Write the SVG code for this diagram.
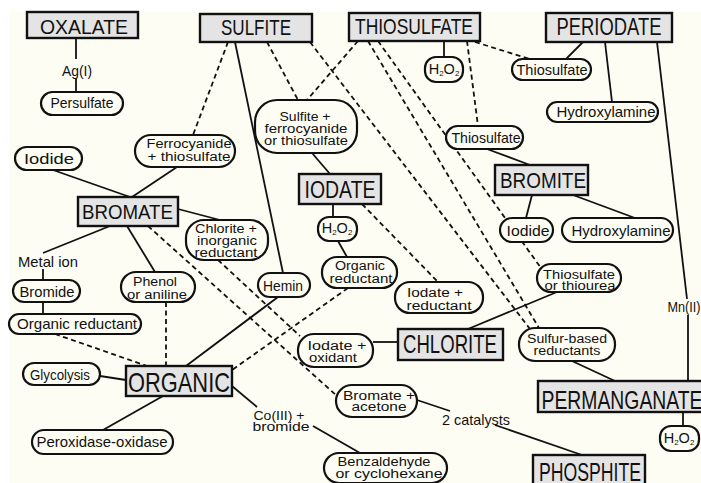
<svg xmlns="http://www.w3.org/2000/svg" width="701" height="483" viewBox="0 0 701 483">
<style>
.bg{fill:#fdfdf4}
.box rect{fill:#e4e4e4;stroke:#111;stroke-width:2.4}
.pill rect{fill:#fdfdf4;stroke:#111;stroke-width:2.2}
.big{font-family:"Liberation Sans",Arial,sans-serif;fill:#111;text-anchor:middle}
.t{font-family:"Liberation Sans",Arial,sans-serif;font-size:14.5px;fill:#111;text-anchor:middle}
.m{font-size:12px}
.sub{font-size:8px}
#connectors line{stroke:#111;stroke-width:1.8;fill:none}
#connectors .d{stroke-dasharray:5 3.5}
</style>
<rect width="701" height="483" fill="#ffffff"/>
<rect class="bg" x="9" y="12" width="692" height="471"/>

<g id="connectors">
  <line x1="76" y1="38" x2="76" y2="59"/>
  <line x1="76" y1="78" x2="76" y2="92"/>
  <line x1="583" y1="42" x2="566" y2="59"/>
  <line x1="605" y1="42" x2="612" y2="102"/>
  <line x1="657" y1="42" x2="687" y2="299"/>
  <line x1="688" y1="315" x2="688" y2="381"/>
  <line x1="444" y1="41" x2="444" y2="57"/>
  <line x1="235" y1="42" x2="283" y2="273"/>
  <line x1="177" y1="167" x2="132" y2="197"/>
  <line x1="53" y1="170" x2="130" y2="197"/>
  <line x1="178" y1="209" x2="220" y2="220"/>
  <line x1="110" y1="226" x2="43" y2="253"/>
  <line x1="43" y1="269" x2="43" y2="280"/>
  <line x1="43" y1="302" x2="43" y2="314"/>
  <line x1="127" y1="226" x2="155" y2="272"/>
  <line x1="278" y1="297" x2="186" y2="366"/>
  <line x1="100" y1="376" x2="126" y2="380"/>
  <line x1="163" y1="396" x2="103" y2="430"/>
  <line x1="232" y1="386" x2="257" y2="407"/>
  <line x1="313" y1="426" x2="360" y2="453"/>
  <line x1="312" y1="153" x2="330" y2="174"/>
  <line x1="333" y1="204" x2="333" y2="217"/>
  <line x1="338" y1="241" x2="347" y2="257"/>
  <line x1="487" y1="149" x2="530" y2="165"/>
  <line x1="532" y1="195" x2="526" y2="218"/>
  <line x1="573" y1="195" x2="635" y2="218"/>
  <line x1="468" y1="329" x2="557" y2="292"/>
  <line x1="373" y1="342" x2="398" y2="342"/>
  <line x1="572" y1="361" x2="615" y2="381"/>
  <line x1="683" y1="412" x2="683" y2="426"/>
  <line x1="417" y1="400" x2="450" y2="411"/>
  <line x1="495" y1="425" x2="582" y2="455"/>
  <line class="d" x1="228" y1="42" x2="193" y2="135"/>
  <line class="d" x1="267" y1="42" x2="298" y2="100"/>
  <line class="d" x1="358" y1="41" x2="307" y2="100"/>
  <line class="d" x1="310" y1="42" x2="530" y2="329"/>
  <line class="d" x1="368" y1="41" x2="539" y2="328"/>
  <line class="d" x1="378" y1="41" x2="541" y2="268"/>
  <line class="d" x1="475" y1="42" x2="530" y2="59"/>
  <line class="d" x1="467" y1="41" x2="478" y2="126"/>
  <line class="d" x1="148" y1="226" x2="337" y2="396"/>
  <line class="d" x1="218" y1="260" x2="300" y2="336"/>
  <line class="d" x1="166" y1="302" x2="166" y2="366"/>
  <line class="d" x1="55" y1="334" x2="147" y2="366"/>
  <line class="d" x1="348" y1="288" x2="232" y2="370"/>
  <line class="d" x1="362" y1="204" x2="438" y2="282"/>
</g>

<g id="oxalate" class="box"><rect x="27" y="12" width="111" height="26"/><text class="big" x="84" y="34" font-size="21" textLength="88" lengthAdjust="spacingAndGlyphs">OXALATE</text></g>
<g id="sulfite" class="box"><rect x="200" y="14" width="112" height="28"/><text class="big" x="256" y="35" font-size="22" textLength="70" lengthAdjust="spacingAndGlyphs">SULFITE</text></g>
<g id="thiosulfate" class="box"><rect x="349" y="13" width="131" height="28"/><text class="big" x="414" y="34" font-size="22" textLength="118" lengthAdjust="spacingAndGlyphs">THIOSULFATE</text></g>
<g id="periodate" class="box"><rect x="546" y="13" width="126" height="29"/><text class="big" x="609" y="35" font-size="23" textLength="105" lengthAdjust="spacingAndGlyphs">PERIODATE</text></g>
<g id="bromate" class="box"><rect x="78" y="197" width="100" height="29"/><text class="big" x="127.5" y="219" font-size="21" textLength="91" lengthAdjust="spacingAndGlyphs">BROMATE</text></g>
<g id="iodate" class="box"><rect x="299" y="174" width="82" height="30"/><text class="big" x="340" y="198" font-size="24" textLength="71" lengthAdjust="spacingAndGlyphs">IODATE</text></g>
<g id="bromite" class="box"><rect x="495" y="165" width="93" height="30"/><text class="big" x="543" y="188" font-size="22" textLength="86" lengthAdjust="spacingAndGlyphs">BROMITE</text></g>
<g id="chlorite" class="box"><rect x="398" y="329" width="105" height="31"/><text class="big" x="450" y="353" font-size="25" textLength="94" lengthAdjust="spacingAndGlyphs">CHLORITE</text></g>
<g id="organic" class="box"><rect x="126" y="366" width="106" height="30"/><text class="big" x="179" y="392" font-size="28" textLength="102" lengthAdjust="spacingAndGlyphs">ORGANIC</text></g>
<g id="permanganate" class="box"><rect x="538" y="381" width="172" height="31"/><text class="big" x="622" y="409" font-size="26" textLength="161" lengthAdjust="spacingAndGlyphs">PERMANGANATE</text></g>
<g id="phosphite" class="box"><rect x="533" y="455" width="112" height="36"/><text class="big" x="590" y="481" font-size="26" textLength="102" lengthAdjust="spacingAndGlyphs">PHOSPHITE</text></g>

<g id="ag"><text class="t" x="77" y="76" textLength="30" lengthAdjust="spacingAndGlyphs">Ag(I)</text></g>
<g id="persulfate" class="pill"><rect x="41" y="92" width="82" height="23" rx="11.5"/><text class="t" x="82" y="108" textLength="63" lengthAdjust="spacingAndGlyphs">Persulfate</text></g>
<g id="h2o2-a" class="pill"><rect x="425" y="57" width="38" height="25" rx="11"/><text class="t" x="444" y="74">H<tspan class="sub" dy="2">2</tspan><tspan dy="-2">O</tspan><tspan class="sub" dy="2">2</tspan></text></g>
<g id="thiosulfate-a" class="pill"><rect x="512" y="59" width="79" height="21" rx="10.5"/><text class="t" x="552" y="75" textLength="71" lengthAdjust="spacingAndGlyphs">Thiosulfate</text></g>
<g id="hydroxylamine-a" class="pill"><rect x="547" y="102" width="111" height="20" rx="10"/><text class="t" x="606" y="117" textLength="99" lengthAdjust="spacingAndGlyphs">Hydroxylamine</text></g>
<g id="sulfite-mix" class="pill"><rect x="255" y="100" width="102" height="53" rx="22"/><text class="t m" x="305" y="121" textLength="51" lengthAdjust="spacingAndGlyphs">Sulfite +</text><text class="t m" x="306" y="133" textLength="83" lengthAdjust="spacingAndGlyphs">ferrocyanide</text><text class="t m" x="306" y="145" textLength="84" lengthAdjust="spacingAndGlyphs">or thiosulfate</text></g>
<g id="ferro" class="pill"><rect x="135" y="135" width="100" height="32" rx="16"/><text class="t m" x="189" y="148" textLength="85" lengthAdjust="spacingAndGlyphs">Ferrocyanide</text><text class="t m" x="189" y="161" textLength="83" lengthAdjust="spacingAndGlyphs">+ thiosulfate</text></g>
<g id="iodide-a" class="pill"><rect x="15" y="147" width="67" height="23" rx="11.5"/><text class="t" x="49" y="164" textLength="50" lengthAdjust="spacingAndGlyphs">Iodide</text></g>
<g id="thiosulfate-b" class="pill"><rect x="446" y="126" width="77" height="23" rx="11.5"/><text class="t" x="486" y="143" textLength="69" lengthAdjust="spacingAndGlyphs">Thiosulfate</text></g>
<g id="chlorite-mix" class="pill"><rect x="186" y="220" width="82" height="40" rx="18"/><text class="t m" x="226" y="233" textLength="62" lengthAdjust="spacingAndGlyphs">Chlorite +</text><text class="t m" x="227" y="245" textLength="60" lengthAdjust="spacingAndGlyphs">inorganic</text><text class="t m" x="226" y="257" textLength="63" lengthAdjust="spacingAndGlyphs">reductant</text></g>
<g id="h2o2-b" class="pill"><rect x="318" y="217" width="39" height="24" rx="11"/><text class="t" x="337" y="233">H<tspan class="sub" dy="2">2</tspan><tspan dy="-2">O</tspan><tspan class="sub" dy="2">2</tspan></text></g>
<g id="iodide-b" class="pill"><rect x="500" y="218" width="53" height="24" rx="12"/><text class="t" x="528" y="236" textLength="43" lengthAdjust="spacingAndGlyphs">Iodide</text></g>
<g id="hydroxylamine-b" class="pill"><rect x="562" y="218" width="111" height="24" rx="12"/><text class="t" x="621" y="236" textLength="99" lengthAdjust="spacingAndGlyphs">Hydroxylamine</text></g>
<g id="metal-ion"><text class="t" x="48" y="267" textLength="60" lengthAdjust="spacingAndGlyphs">Metal ion</text></g>
<g id="org-red-b" class="pill"><rect x="322" y="257" width="75" height="31" rx="15"/><text class="t m" x="360" y="270" textLength="50" lengthAdjust="spacingAndGlyphs">Organic</text><text class="t m" x="361" y="283" textLength="63" lengthAdjust="spacingAndGlyphs">reductant</text></g>
<g id="hemin" class="pill"><rect x="258" y="273" width="52" height="24" rx="12"/><text class="t" x="283" y="291" textLength="40" lengthAdjust="spacingAndGlyphs">Hemin</text></g>
<g id="phenol" class="pill"><rect x="121" y="272" width="74" height="30" rx="15"/><text class="t m" x="155" y="286" textLength="44" lengthAdjust="spacingAndGlyphs">Phenol</text><text class="t m" x="157" y="299" textLength="60" lengthAdjust="spacingAndGlyphs">or aniline</text></g>
<g id="iodate-red" class="pill"><rect x="395" y="282" width="88" height="31" rx="15"/><text class="t m" x="435" y="297" textLength="56" lengthAdjust="spacingAndGlyphs">Iodate +</text><text class="t m" x="439" y="310" textLength="65" lengthAdjust="spacingAndGlyphs">reductant</text></g>
<g id="thio-urea" class="pill"><rect x="537" y="264" width="84" height="28" rx="14"/><text class="t m" x="579" y="279" textLength="72" lengthAdjust="spacingAndGlyphs">Thiosulfate</text><text class="t m" x="580" y="290" textLength="71" lengthAdjust="spacingAndGlyphs">or thiourea</text></g>
<g id="mn"><text class="t" x="684" y="312" textLength="33" lengthAdjust="spacingAndGlyphs">Mn(II)</text></g>
<g id="bromide" class="pill"><rect x="13" y="280" width="67" height="22" rx="11"/><text class="t" x="47" y="297" textLength="55" lengthAdjust="spacingAndGlyphs">Bromide</text></g>
<g id="org-red-a" class="pill"><rect x="9" y="314" width="132" height="20" rx="10"/><text class="t" x="77" y="329" textLength="120" lengthAdjust="spacingAndGlyphs">Organic reductant</text></g>
<g id="iodate-ox" class="pill"><rect x="298" y="334" width="75" height="33" rx="16"/><text class="t m" x="337" y="350" textLength="59" lengthAdjust="spacingAndGlyphs">Iodate +</text><text class="t m" x="333" y="362" textLength="48" lengthAdjust="spacingAndGlyphs">oxidant</text></g>
<g id="sulfur-red" class="pill"><rect x="519" y="328" width="96" height="33" rx="16"/><text class="t m" x="567" y="343" textLength="80" lengthAdjust="spacingAndGlyphs">Sulfur-based</text><text class="t m" x="567" y="355" textLength="67" lengthAdjust="spacingAndGlyphs">reductants</text></g>
<g id="glycolysis" class="pill"><rect x="23" y="363" width="77" height="22" rx="11"/><text class="t" x="60" y="380" textLength="60" lengthAdjust="spacingAndGlyphs">Glycolysis</text></g>
<g id="bromate-acetone" class="pill"><rect x="336" y="385" width="81" height="32" rx="16"/><text class="t m" x="379" y="400" textLength="72" lengthAdjust="spacingAndGlyphs">Bromate +</text><text class="t m" x="379" y="411" textLength="55" lengthAdjust="spacingAndGlyphs">acetone</text></g>
<g id="co"><text class="t m" x="279" y="420" textLength="51" lengthAdjust="spacingAndGlyphs">Co(III) +</text><text class="t m" x="281" y="431" textLength="57" lengthAdjust="spacingAndGlyphs">bromide</text></g>
<g id="catalysts"><text class="t" x="476" y="425" textLength="68" lengthAdjust="spacingAndGlyphs">2 catalysts</text></g>
<g id="h2o2-c" class="pill"><rect x="660" y="426" width="39" height="25" rx="11"/><text class="t" x="679" y="443">H<tspan class="sub" dy="2">2</tspan><tspan dy="-2">O</tspan><tspan class="sub" dy="2">2</tspan></text></g>
<g id="peroxidase" class="pill"><rect x="32" y="430" width="141" height="24" rx="12"/><text class="t" x="102" y="447" textLength="131" lengthAdjust="spacingAndGlyphs">Peroxidase-oxidase</text></g>
<g id="benzaldehyde" class="pill"><rect x="324" y="453" width="123" height="30" rx="15"/><text class="t m" x="384" y="466" textLength="93" lengthAdjust="spacingAndGlyphs">Benzaldehyde</text><text class="t m" x="389" y="478" textLength="107" lengthAdjust="spacingAndGlyphs">or cyclohexane</text></g>
</svg>
